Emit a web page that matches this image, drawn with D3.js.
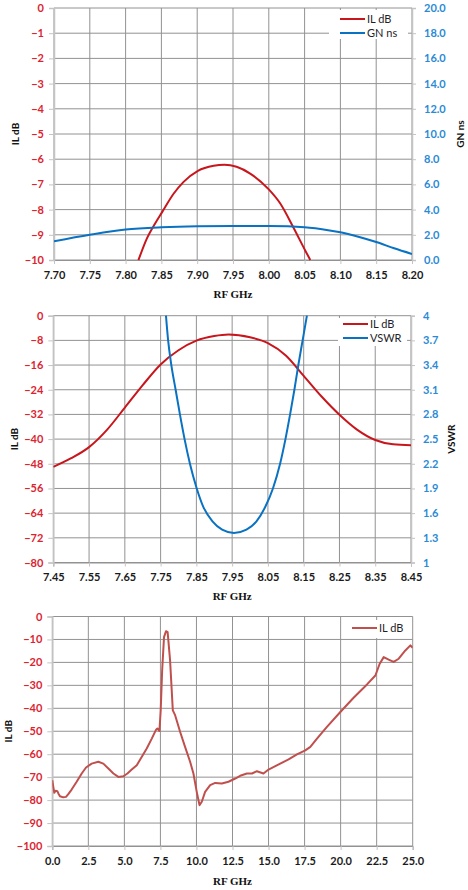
<!DOCTYPE html>
<html>
<head>
<meta charset="utf-8">
<script src="https://cdnjs.cloudflare.com/ajax/libs/d3/7.8.5/d3.min.js"></script>
<style>
  body { margin: 0; background: #fff; }
  svg { display: block; }
</style>
</head>
<body>
<div id="chart"></div>
<script>
// top panel: IL dB + group delay, narrow band
const topILFreq = [7.818, 7.8295, 7.841, 7.851, 7.867, 7.881, 7.901, 7.923, 7.938, 7.955, 7.974, 8.0, 8.016, 8.034, 8.051, 8.058];
const topIL = [-10, -9.16, -8.56, -8.1, -7.37, -6.9, -6.46, -6.26, -6.22, -6.3, -6.57, -7.2, -7.76, -8.69, -9.63, -10];
const topGNFreq = [7.70, 7.75, 7.80, 7.85, 7.90, 7.95, 8.00, 8.05, 8.085, 8.10, 8.125, 8.15, 8.175, 8.20];
const topGN = [1.48, 2.0, 2.42, 2.6, 2.68, 2.7, 2.69, 2.6, 2.35, 2.2, 1.85, 1.43, 0.93, 0.48];
const topXTicks = [7.70, 7.75, 7.80, 7.85, 7.90, 7.95, 8.00, 8.05, 8.10, 8.15, 8.20];
const topYTicks = [0, -1, -2, -3, -4, -5, -6, -7, -8, -9, -10];
const topY2Ticks = [0, 2, 4, 6, 8, 10, 12, 14, 16, 18, 20];

// middle panel: IL dB + VSWR
const midFreq = [7.45, 7.50, 7.55, 7.60, 7.65, 7.70, 7.75, 7.80, 7.85, 7.90, 7.94, 8.00, 8.05, 8.10, 8.15, 8.20, 8.25, 8.30, 8.35, 8.40, 8.45];
const midIL = [-49, -46.2, -42.6, -37, -29.8, -22.5, -15.8, -11.2, -8.1, -6.6, -6.1, -7.0, -8.9, -12.9, -19.5, -26.2, -32.1, -37, -40.3, -41.7, -42];
const vswrFreq = [7.765, 7.771, 7.78, 7.792, 7.804, 7.817, 7.832, 7.851, 7.869, 7.895, 7.922, 7.955, 7.99, 8.018, 8.043, 8.064, 8.084, 8.099, 8.112, 8.124, 8.135, 8.147, 8.159];
const vswr = [4.0, 3.7, 3.4, 3.1, 2.8, 2.5, 2.2, 1.9, 1.68, 1.5, 1.4, 1.36, 1.4, 1.5, 1.68, 1.9, 2.2, 2.5, 2.8, 3.1, 3.4, 3.7, 4.0];
const midXTicks = [7.45, 7.55, 7.65, 7.75, 7.85, 7.95, 8.05, 8.15, 8.25, 8.35, 8.45];
const midYTicks = [0, -8, -16, -24, -32, -40, -48, -56, -64, -72, -80];
const midY2Ticks = [1, 1.3, 1.6, 1.9, 2.2, 2.5, 2.8, 3.1, 3.4, 3.7, 4];

// bottom panel: IL dB wideband
const wideFreq = [0.0, 0.07, 0.14, 0.23, 0.35, 0.42, 0.53, 0.76, 0.95, 1.11, 1.34, 1.69, 2.04, 2.34, 2.73,
  3.19, 3.54, 3.89, 4.24, 4.58, 4.93, 5.21, 5.51, 5.86, 6.2, 6.55, 6.9, 7.2, 7.29, 7.43, 7.52, 7.62,
  7.75, 7.89, 8.0, 8.17, 8.36, 8.52, 8.87, 9.21, 9.56, 9.79, 10.02, 10.21, 10.37, 10.6, 10.95, 11.3,
  11.76, 12.22, 12.69, 13.03, 13.5, 13.85, 14.19, 14.65, 15.0, 15.47, 15.81, 16.39, 16.97, 17.55, 17.9,
  18.36, 19.05, 19.98, 20.9, 21.83, 22.41, 22.71, 22.99, 23.33, 23.68, 24.03, 24.49, 24.84, 25.0];
const wideIL = [-71.3, -74.2, -76.8, -75.9, -76.1, -77.1, -78.3, -78.8, -78.6, -77.4, -75.4, -72.0, -68.4, -65.8, -64.1,
  -63.3, -64.1, -66.2, -68.4, -69.9, -69.6, -68.4, -66.7, -64.8, -61.2, -57.5, -53.2, -49.3, -48.8, -49.9, -40.9, -23.5,
  -9, -6.4, -6.8, -19.1, -40.9, -43, -50.3, -56.8, -63.3, -68.4, -76.4, -82.2, -80.7, -76.4, -73.5, -72.5,
  -72.8, -72.0, -70.6, -69.4, -68.4, -68.4, -67.4, -68.4, -66.7, -65.2, -64.1, -62.3, -60.1, -58.3, -56.8,
  -53.2, -48.1, -41.6, -35.4, -29.6, -25.7, -20.6, -17.7, -18.8, -19.8, -18.4, -14.8, -12.6, -13.6];
const wideXTicks = [0, 2.5, 5, 7.5, 10, 12.5, 15, 17.5, 20, 22.5, 25];
const wideYTicks = [0, -10, -20, -30, -40, -50, -60, -70, -80, -90, -100];

const RED = "#c8161d",
  BLUE = "#0a72c2",
  RED_TXT = "#dc2430",
  BLUE_TXT = "#2a8ad6",
  GRID = "#929292",
  AXIS = "#c4c4c4",
  TICK_FONT = "Lato, 'Open Sans', sans-serif",
  TITLE_FONT = "'Liberation Serif', 'DejaVu Serif', serif";

const svg = d3
  .select("#chart")
  .append("svg")
  .attr("width", 468)
  .attr("height", 890);

svg.append("rect").attr("width", 468).attr("height", 890).attr("fill", "#fff");

const zip = (xs, ys) => xs.map((x, i) => ({ x, y: ys[i] }));

const styleTicks = (sel, color) => {
  sel.select(".domain").attr("stroke", AXIS).attr("stroke-width", 1.5);
  sel.selectAll(".tick line").attr("stroke", AXIS).attr("stroke-width", 1);
  sel
    .selectAll(".tick text")
    .attr("fill", color)
    .style("font-family", TICK_FONT)
    .style("font-weight", "bold")
    .style("font-size", "11px");
};

const drawPanel = (p, id) => {
  const x = d3.scaleLinear().domain(p.xDomain).range([p.left, p.right]);
  const y = d3.scaleLinear().domain(p.yDomain).range([p.bottom, p.top]);
  const w = p.right - p.left,
    h = p.bottom - p.top;
  const g = svg.append("g");

  // grid
  g.append("g")
    .selectAll("line")
    .data(p.yTicks)
    .enter()
    .append("line")
    .attr("x1", p.left)
    .attr("x2", p.right)
    .attr("y1", d => y(d))
    .attr("y2", d => y(d))
    .attr("stroke", GRID)
    .attr("stroke-width", 1);
  g.append("g")
    .selectAll("line")
    .data(p.xTicks)
    .enter()
    .append("line")
    .attr("x1", d => x(d))
    .attr("x2", d => x(d))
    .attr("y1", p.top)
    .attr("y2", p.bottom)
    .attr("stroke", GRID)
    .attr("stroke-width", 1);

  // axes
  g.append("g")
    .attr("transform", `translate(0,${p.bottom})`)
    .call(d3.axisBottom(x).tickValues(p.xTicks).tickSize(4).tickPadding(7).tickFormat(p.xFmt))
    .call(s => styleTicks(s, "#1a1a1a"))
    .call(s => s.select(".domain").attr("stroke", GRID).attr("stroke-width", 1));
  g.append("g")
    .attr("transform", `translate(${p.left},0)`)
    .call(d3.axisLeft(y).tickValues(p.yTicks).tickSize(5).tickPadding(5).tickFormat(p.yFmt))
    .call(s => styleTicks(s, RED_TXT));

  let y2;
  if (p.y2Domain) {
    y2 = d3.scaleLinear().domain(p.y2Domain).range([p.bottom, p.top]);
    g.append("g")
      .attr("transform", `translate(${p.right},0)`)
      .call(d3.axisRight(y2).tickValues(p.y2Ticks).tickSize(4).tickPadding(8).tickFormat(p.y2Fmt))
      .call(s => styleTicks(s, BLUE_TXT));
  }

  // clip the series to the plot area
  g.append("clipPath")
    .attr("id", id)
    .append("rect")
    .attr("x", p.left)
    .attr("y", p.top - 1)
    .attr("width", w)
    .attr("height", h + 2);

  p.series.forEach(s => {
    const sy = s.axis === 2 ? y2 : y;
    const line = d3
      .line()
      .x(d => x(d.x))
      .y(d => sy(d.y))
      .curve(s.curve || d3.curveMonotoneX);
    g.append("path")
      .datum(s.data)
      .attr("clip-path", `url(#${id})`)
      .attr("d", line)
      .attr("fill", "none")
      .attr("stroke", s.color)
      .attr("stroke-width", 2)
      .attr("stroke-linejoin", "round");
  });

  // legend
  const lg = g.append("g");
  lg.append("rect")
    .attr("x", p.legend.x)
    .attr("y", p.legend.y)
    .attr("width", p.legend.w)
    .attr("height", p.legend.h)
    .attr("fill", "#fff");
  p.series.forEach((s, i) => {
    const ly = p.legend.y + p.legend.first + i * 14;
    lg.append("line")
      .attr("x1", p.legend.lx)
      .attr("x2", p.legend.lx + 25)
      .attr("y1", ly)
      .attr("y2", ly)
      .attr("stroke", s.color)
      .attr("stroke-width", 2);
    lg.append("text")
      .attr("x", p.legend.lx + 27)
      .attr("y", ly + 4)
      .text(s.name)
      .style("font-family", TICK_FONT)
      .style("font-size", "11px")
      .attr("fill", "#1e1e2a");
  });

  // titles
  g.append("text")
    .attr("x", (p.left + p.right) / 2)
    .attr("y", p.xTitleY)
    .attr("text-anchor", "middle")
    .text("RF GHz")
    .style("font-family", TITLE_FONT)
    .style("font-weight", "bold")
    .style("font-size", "11px")
    .attr("fill", "#111");
  g.append("text")
    .attr("transform", `translate(${p.yTitleX},${(p.top + p.bottom) / 2}) rotate(-90)`)
    .attr("text-anchor", "middle")
    .attr("dy", "0.35em")
    .text("IL dB")
    .style("font-family", TICK_FONT)
    .style("font-weight", "bold")
    .style("font-size", "10px")
    .attr("fill", "#111");
  if (p.y2Title) {
    g.append("text")
      .attr("transform", `translate(${p.y2TitleX},${(p.top + p.bottom) / 2}) rotate(-90)`)
      .attr("text-anchor", "middle")
      .attr("dy", "0.35em")
      .text(p.y2Title)
      .style("font-family", TICK_FONT)
      .style("font-weight", "bold")
      .style("font-size", "10px")
      .attr("fill", "#111");
  }
};

drawPanel(
  {
    left: 54, right: 412, top: 8, bottom: 260,
    xDomain: [7.7, 8.2], yDomain: [-10, 0], y2Domain: [0, 20],
    xTicks: topXTicks, yTicks: topYTicks, y2Ticks: topY2Ticks,
    xFmt: d3.format(".2f"), yFmt: d3.format("d"), y2Fmt: d3.format(".1f"),
    series: [
      { name: "IL dB", color: RED, axis: 1, data: zip(topILFreq, topIL) },
      { name: "GN ns", color: BLUE, axis: 2, data: zip(topGNFreq, topGN) }
    ],
    legend: { x: 329, y: 10, w: 79, h: 29, lx: 340, first: 9 },
    xTitleY: 298, yTitleX: 15.5, y2Title: "GN ns", y2TitleX: 460
  },
  "clipTop"
);

drawPanel(
  {
    left: 53.3, right: 411, top: 315.7, bottom: 562.5,
    xDomain: [7.45, 8.45], yDomain: [-80, 0], y2Domain: [1, 4],
    xTicks: midXTicks, yTicks: midYTicks, y2Ticks: midY2Ticks,
    xFmt: d3.format(".2f"), yFmt: d3.format("d"), y2Fmt: d => String(+d.toFixed(1)),
    series: [
      { name: "IL dB", color: RED, axis: 1, data: zip(midFreq, midIL) },
      { name: "VSWR", color: BLUE, axis: 2, data: zip(vswrFreq, vswr) }
    ],
    legend: { x: 338, y: 318, w: 69, h: 28, lx: 343, first: 6 },
    xTitleY: 600, yTitleX: 14, y2Title: "VSWR", y2TitleX: 451
  },
  "clipMid"
);

drawPanel(
  {
    left: 52.3, right: 412.7, top: 616.5, bottom: 846,
    xDomain: [0, 25], yDomain: [-100, 0],
    xTicks: wideXTicks, yTicks: wideYTicks,
    xFmt: d3.format(".1f"), yFmt: d3.format("d"),
    series: [
      { name: "IL dB", color: "#c0504d", axis: 1, data: zip(wideFreq, wideIL), curve: d3.curveLinear }
    ],
    legend: { x: 345, y: 620, w: 66, h: 18, lx: 352, first: 8 },
    xTitleY: 885, yTitleX: 8
  },
  "clipWide"
);
</script>
</body>
</html>
